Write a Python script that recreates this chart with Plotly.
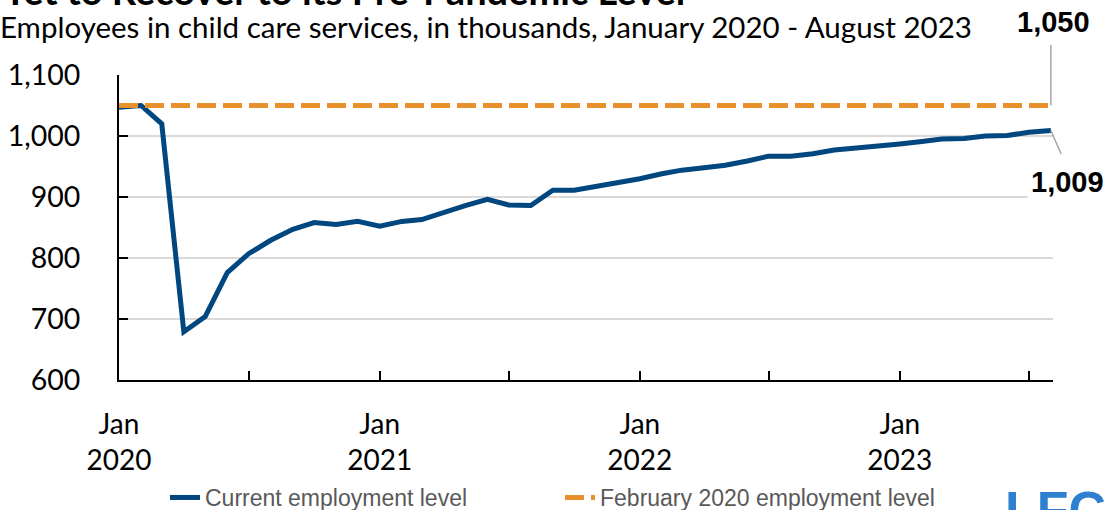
import plotly.graph_objects as go

# ---- data ----
months = [f"{y}-{m:02d}-01" for y in (2020, 2021, 2022, 2023) for m in range(1, 13)][:44]
current_level = [
    1047, 1050, 1020, 679, 704, 776, 807, 829, 847, 858, 855, 860,   # 2020
    852, 860, 863, 875, 886, 896, 887, 886, 911, 911, 917, 923,      # 2021
    930, 938, 944, 948, 952, 959, 967, 967, 971, 977, 980, 983,      # 2022
    987, 991, 995, 996, 1000, 1001, 1006, 1009,                      # 2023
]
feb2020_level = 1050
baseline_series = [feb2020_level] * len(months)

tick_vals = ["2020-01-01", "2020-07-01", "2021-01-01", "2021-07-01",
             "2022-01-01", "2022-07-01", "2023-01-01", "2023-07-01"]
tick_text = ["Jan<br>2020", "", "Jan<br>2021", "", "Jan<br>2022", "", "Jan<br>2023", ""]

title_text = "Yet to Recover to its Pre-Pandemic Level"
subtitle_text = "Employees in child care services, in thousands, January 2020 - August 2023"

# ---- layout geometry (pixels) ----
W, H = 1113, 510
L, R, T, B = 119, 1053, 75, 380


def px_x(p):
    return (p - L) / (R - L)


def px_y(p):
    return (B - p) / (B - T)


BLUE = "#00467F"
ORANGE = "#E8912B"
FONT = "Lato"

fig = go.Figure()
fig.add_trace(go.Scatter(
    x=months, y=current_level, mode="lines", name="Current employment level",
    line=dict(color=BLUE, width=5), hoverinfo="x+y",
))
fig.add_trace(go.Scatter(
    x=months, y=baseline_series, mode="lines", name="February 2020 employment level",
    line=dict(color=ORANGE, width=5, dash="19px,7px"), hoverinfo="x+y",
))

annotations = [
    dict(text=f"<b>{title_text}</b>", xref="paper", yref="paper", x=px_x(0), y=px_y(-10),
         xanchor="left", yanchor="middle", showarrow=False,
         font=dict(family=FONT, size=38, color="black")),
    dict(text=subtitle_text, xref="paper", yref="paper", x=px_x(-2), y=px_y(26),
         xanchor="left", yanchor="middle", showarrow=False,
         font=dict(family=FONT, size=29.5, color="black")),
    # leader lines
    dict(text="", x=months[-1], y=feb2020_level, xref="x", yref="y",
         showarrow=True, arrowhead=0, arrowwidth=1.5, arrowcolor="#A6A6A6",
         ax=0, ay=-62, standoff=0),
    dict(text="", x=months[-1], y=current_level[-1], xref="x", yref="y",
         showarrow=True, arrowhead=0, arrowwidth=1.5, arrowcolor="#A6A6A6",
         ax=11, ay=25, standoff=0),
    # value labels
    dict(text=f"<b>{feb2020_level:,}</b>", x=months[-1], y=feb2020_level, xref="x", yref="y",
         showarrow=False, xshift=3, yshift=84,
         font=dict(family="Liberation Sans", size=29, color="black")),
    dict(text=f"<b>{current_level[-1]:,}</b>", x=months[-1], y=current_level[-1], xref="x", yref="y",
         showarrow=False, xshift=17, yshift=-51, bgcolor="white", borderpad=3,
         font=dict(family="Liberation Sans", size=29, color="black")),
    # logo text
    dict(text="<b>LFC</b>", xref="paper", yref="paper", x=px_x(1003), y=px_y(479),
         xanchor="left", yanchor="top", showarrow=False,
         font=dict(family="Liberation Sans", size=52, color="#2F7FD0")),
]

fig.update_layout(
    width=W, height=H,
    margin=dict(l=L, r=W - R, t=T, b=H - B, pad=0, autoexpand=False),
    paper_bgcolor="white", plot_bgcolor="white",
    font=dict(family=FONT, color="black"),
    showlegend=True,
    legend=dict(orientation="h", xref="container", yref="container",
                x=165 / W, y=1 - 476 / H, xanchor="left", yanchor="top",
                font=dict(family="Liberation Sans", size=23, color="#595959"),
                itemwidth=30, entrywidth=350, bgcolor="rgba(0,0,0,0)", tracegroupgap=0),
    annotations=annotations,
    xaxis=dict(
        type="date", range=["2020-01-01", "2023-08-04"], automargin=False,
        tickmode="array", tickvals=tick_vals, ticktext=tick_text,
        ticks="inside", ticklen=9, tickwidth=2, tickcolor="black",
        showline=True, linecolor="black", linewidth=2,
        showgrid=False, zeroline=False, ticklabelstandoff=18,
        tickfont=dict(family=FONT, size=28, color="black"),
    ),
    yaxis=dict(
        range=[600, 1100], dtick=100, tick0=600, tickformat=",", automargin=False,
        ticks="inside", ticklen=9, tickwidth=2, tickcolor="black",
        showline=True, linecolor="black", linewidth=2,
        showgrid=True, gridcolor="#D9D9D9", gridwidth=1.5, zeroline=False,
        ticklabelstandoff=31,
        tickfont=dict(family=FONT, size=28.5, color="black"),
    ),
)

fig.write_html("out.html")
